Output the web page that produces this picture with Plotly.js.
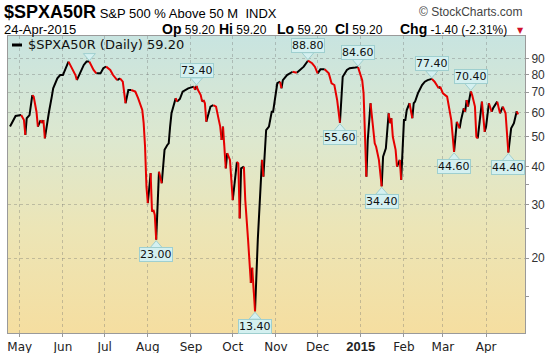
<!DOCTYPE html>
<html><head><meta charset="utf-8">
<script src="https://cdn.plot.ly/plotly-3.0.1.min.js"></script>
<style>
html,body{margin:0;padding:0;background:#fff;}
#wrap{position:relative;width:550px;height:353px;overflow:hidden;}
#bg{position:absolute;left:8px;top:36px;width:517px;height:297px;background:linear-gradient(to bottom,#c8e4e0 0%,#dde8cf 35%,#ece5b6 65%,#f5dea0 100%);}
#chart{position:absolute;left:0;top:0;width:550px;height:353px;}
</style></head><body>
<div id="wrap"><div id="bg"></div><div id="chart"></div></div>
<script>
const dates = [
'2014-04-24','2014-04-28','2014-05-02','2014-05-04','2014-05-05','2014-05-06','2014-05-08','2014-05-10','2014-05-11','2014-05-13',
'2014-05-14','2014-05-16','2014-05-17','2014-05-18','2014-05-19','2014-05-20','2014-05-22','2014-05-24','2014-05-25','2014-05-28',
'2014-05-30','2014-06-01','2014-06-03','2014-06-05','2014-06-07','2014-06-10','2014-06-11','2014-06-13','2014-06-16','2014-06-18',
'2014-06-20','2014-06-23','2014-06-25','2014-06-28','2014-06-30','2014-07-02','2014-07-05','2014-07-07','2014-07-10','2014-07-12',
'2014-07-14','2014-07-16','2014-07-17','2014-07-18','2014-07-20','2014-07-23','2014-07-25','2014-07-28','2014-07-29','2014-07-30',
'2014-07-31','2014-08-01','2014-08-03','2014-08-04','2014-08-05','2014-08-06','2014-08-07','2014-08-09','2014-08-11','2014-08-13',
'2014-08-15','2014-08-16','2014-08-17','2014-08-18','2014-08-21','2014-08-22','2014-08-24','2014-08-26','2014-08-30','2014-09-03',
'2014-09-04','2014-09-05','2014-09-06','2014-09-08','2014-09-09','2014-09-10','2014-09-11','2014-09-12','2014-09-15','2014-09-17',
'2014-09-19','2014-09-21','2014-09-22','2014-09-23','2014-09-24','2014-09-26','2014-09-27','2014-09-29','2014-10-01','2014-10-04',
'2014-10-05','2014-10-06','2014-10-07','2014-10-09','2014-10-10','2014-10-12','2014-10-13','2014-10-14','2014-10-15','2014-10-16',
'2014-10-17','2014-10-19','2014-10-22','2014-10-23','2014-10-24','2014-10-25','2014-10-27','2014-10-29','2014-10-30','2014-11-02',
'2014-11-04','2014-11-05','2014-11-06','2014-11-09','2014-11-11','2014-11-13','2014-11-16','2014-11-18','2014-11-21','2014-11-24',
'2014-11-27','2014-11-29','2014-12-01','2014-12-03','2014-12-06','2014-12-09','2014-12-11','2014-12-13','2014-12-15','2014-12-17',
'2014-12-18','2014-12-19','2014-12-22','2014-12-24','2014-12-28','2014-12-30','2015-01-02','2015-01-03','2015-01-05','2015-01-06',
'2015-01-08','2015-01-10','2015-01-11','2015-01-12','2015-01-14','2015-01-16','2015-01-17','2015-01-19','2015-01-21','2015-01-22',
'2015-01-23','2015-01-24','2015-01-26','2015-01-27','2015-01-29','2015-01-30','2015-01-31','2015-02-01','2015-02-02','2015-02-03',
'2015-02-05','2015-02-07','2015-02-08','2015-02-09','2015-02-10','2015-02-11','2015-02-14','2015-02-16','2015-02-18','2015-02-21',
'2015-02-23','2015-02-26','2015-02-27','2015-03-01','2015-03-04','2015-03-05','2015-03-06','2015-03-07','2015-03-09','2015-03-10',
'2015-03-11','2015-03-13','2015-03-14','2015-03-16','2015-03-17','2015-03-18','2015-03-19','2015-03-21','2015-03-22','2015-03-24',
'2015-03-25','2015-03-26','2015-03-29','2015-03-30','2015-03-31','2015-04-01','2015-04-03','2015-04-05','2015-04-06','2015-04-09',
'2015-04-10','2015-04-11','2015-04-13','2015-04-15','2015-04-17','2015-04-19','2015-04-21','2015-04-22','2015-04-23','2015-04-24'
];
const values = [
54.0,58.5,58.9,56.7,50.7,57.5,58.9,68.5,67.7,60.4,
54.0,56.7,55.4,56.7,49.4,53.3,60.4,67.7,72.1,77.7,
79.7,79.7,83.9,88.2,84.9,79.7,76.7,80.7,86.0,88.2,
88.2,82.8,80.7,80.7,83.9,84.9,82.8,79.7,76.7,77.7,
75.8,64.4,67.7,71.2,71.2,70.3,66.9,61.2,55.4,46.4,
34.3,30.3,38.0,28.4,28.8,27.7,23.0,38.4,35.2,45.3,
47.0,47.6,54.0,59.7,66.9,65.2,66.5,70.3,72.1,73.0,
71.2,73.4,71.2,68.5,65.2,66.0,64.4,56.0,62.8,63.5,
62.8,56.7,54.0,48.8,54.0,39.4,44.2,42.0,31.0,41.4,
40.9,27.0,39.4,39.9,31.0,23.0,18.8,16.6,18.6,16.1,
13.4,23.0,42.0,37.0,43.0,52.6,54.0,60.4,60.4,74.9,
75.8,72.1,76.7,79.7,80.7,81.7,81.1,82.8,84.9,88.8,
87.1,84.9,80.7,83.2,83.2,80.7,74.9,73.9,66.0,55.6,
66.0,78.7,82.8,83.9,84.3,84.6,76.7,69.4,37.0,48.8,
64.4,54.0,47.6,46.4,42.0,34.4,43.0,45.8,59.7,55.4,
57.5,50.0,45.3,39.9,42.0,36.1,45.3,56.7,56.7,61.2,
64.4,57.5,64.4,65.2,67.7,69.4,73.9,75.8,76.7,77.4,
75.8,72.1,73.0,69.4,67.7,63.5,59.7,56.7,44.6,50.0,
56.0,53.3,56.7,62.0,60.4,66.0,62.8,70.4,68.5,62.8,
50.0,49.4,65.2,56.7,51.9,54.0,64.4,60.4,62.0,65.2,
62.8,59.7,62.8,59.7,44.4,53.3,55.4,58.2,60.6,59.2
];
const monthTicks = ['2014-05-01','2014-06-01','2014-07-01','2014-08-01','2014-09-01','2014-10-01','2014-11-01','2014-12-01','2015-01-01','2015-02-01','2015-03-01','2015-04-01'];
const monthLabels = ['May','Jun','Jul','Aug','Sep','Oct','Nov','Dec','<b style="font-family:Liberation Sans;font-size:13px">2015</b>','Feb','Mar','Apr'];
const yTicks = [20,30,40,50,60,70,80,90];
const yMinorTicks = [15,25,35];
const labelDates = ['2014-08-07','2014-09-05','2014-10-17','2014-11-24','2014-12-17','2014-12-30','2015-01-16','2015-02-21','2015-03-09','2015-03-21','2015-04-17'];
const labelSides = ['below','above','below','above','below','above','below','above','below','above','below'];
const hiddenLabelDates = ['2014-06-20'];
const headerStats = [['Op','59.20'],['Hi','59.20'],['Lo','59.20'],['Cl','59.20'],['Chg','-1.40 (-2.31%)']];

// layout helpers (pixel -> paper)
const L=8, R=525, T=36, B=333;
const px = x => (x-L)/(R-L);
const py = y => (B-y)/(B-T);
const xRange = ['2014-04-22T13:00:00Z','2015-04-28T23:00:00Z'];
const yRangeLog = [1.0556, 2.0294];
const msPerPx = (Date.parse(xRange[1]) - Date.parse(xRange[0]))/(R-L);
const decPerPx = (yRangeLog[1]-yRangeLog[0])/(B-T);

function runs(up){
  const xs=[], ys=[];
  for(let i=0;i<values.length-1;i++){
    const isUp = values[i+1]>=values[i];
    if(isUp===up){
      if(!(xs.length && xs[xs.length-1]===dates[i])){
        if(xs.length){xs.push(null);ys.push(null);}
        xs.push(dates[i]); ys.push(values[i]);
      }
      xs.push(dates[i+1]); ys.push(values[i+1]);
    }
  }
  return {xs,ys};
}
const upR = runs(true), dnR = runs(false);

// pointer triangles between label boxes and the marked points (pixel sizes via axis scale)
const triX=[], triY=[];
function pointer(d, v, above){
  const t = Date.parse(d+'T00:00:00Z'), lv = Math.log10(v), s = above?1:-1;
  const pts = [[-6,8],[6,8],[0,1],[-6,8]];
  pts.forEach(p=>{ triX.push(new Date(t + p[0]*msPerPx).toISOString().replace('T',' ').replace('Z','')); triY.push(Math.pow(10, lv + s*p[1]*decPerPx)); });
  triX.push(null); triY.push(null);
}
const boxFill='#d4f0f0', boxLine='#9fcfcf';
const annotations = [];
labelDates.forEach((d,k)=>{
  const v = values[dates.indexOf(d)];
  const above = labelSides[k]==='above';
  pointer(d, v, above);
  annotations.push({
    x:d, y:Math.log10(v), xref:'x', yref:'y', text:v.toFixed(2),
    showarrow:false, yshift: above?15:-15, xanchor:'center', yanchor:'middle',
    bgcolor:boxFill, bordercolor:boxLine, borderwidth:1, borderpad:0,
    font:{family:'DejaVu Sans',size:11,color:'#111'}
  });
});
hiddenLabelDates.forEach(d=>pointer(d, values[dates.indexOf(d)], true));

const traces = [
  {x:upR.xs,y:upR.ys,type:'scatter',mode:'lines',connectgaps:false,line:{color:'#000000',width:2},hoverinfo:'skip',showlegend:false},
  {x:dnR.xs,y:dnR.ys,type:'scatter',mode:'lines',connectgaps:false,line:{color:'#e60000',width:2},hoverinfo:'skip',showlegend:false},
  {x:triX,y:triY,type:'scatter',mode:'lines',fill:'toself',fillcolor:boxFill,connectgaps:false,line:{color:boxLine,width:1},hoverinfo:'skip',showlegend:false}
];

annotations.push({xref:'paper',yref:'paper',x:px(2),y:py(11.5),xanchor:'left',yanchor:'middle',showarrow:false,
  text:'<b>$SPXA50R</b><span style="font-size:13px">&nbsp;S&amp;P 500 % Above 50 M&nbsp; INDX</span>',
  font:{family:'Liberation Sans',size:18,color:'#000'}});
annotations.push({xref:'paper',yref:'paper',x:px(525),y:py(12),xanchor:'right',yanchor:'middle',showarrow:false,
  text:'© StockCharts.com',font:{family:'Liberation Sans',size:12,color:'#444'}});
annotations.push({xref:'paper',yref:'paper',x:px(2),y:py(29),xanchor:'left',yanchor:'middle',showarrow:false,
  text:'24-Apr-2015',font:{family:'Liberation Sans',size:13,color:'#000'}});
const statX = [160,217,275,333,398];
headerStats.forEach((s,k)=>{
  annotations.push({xref:'paper',yref:'paper',x:px(statX[k]),y:py(29),xanchor:'left',yanchor:'middle',showarrow:false,
    text:'<b>'+s[0]+'</b><span style="font-size:12px">&nbsp;'+s[1]+'</span>',font:{family:'Liberation Sans',size:14,color:'#000'}});
});
annotations.push({xref:'paper',yref:'paper',x:px(520),y:py(30),xanchor:'center',yanchor:'middle',showarrow:false,
  text:'▼',font:{family:'DejaVu Sans',size:8,color:'#d0102a'}});
annotations.push({xref:'paper',yref:'paper',x:px(26),y:py(45),xanchor:'left',yanchor:'middle',showarrow:false,
  text:'$SPXA50R (Daily) '+values[values.length-1].toFixed(2),
  font:{family:'DejaVu Sans',size:13,color:'#111'}});

const layout = {
  width:550,height:353,
  margin:{l:L,r:550-R,t:T,b:353-B,pad:0},
  paper_bgcolor:'rgba(0,0,0,0)',plot_bgcolor:'rgba(0,0,0,0)',
  showlegend:false,
  xaxis:{type:'date',range:xRange.map(s=>s.replace('T',' ').replace('Z','')),tickmode:'array',tickvals:monthTicks,ticktext:monthLabels,
    showgrid:true,gridcolor:'rgba(110,110,110,0.35)',griddash:'dot',gridwidth:1,
    ticks:'outside',ticklen:3,tickcolor:'#999',showline:true,mirror:true,linecolor:'#9a9a9a',linewidth:1,
    tickfont:{family:'DejaVu Sans',size:12,color:'#222'},zeroline:false,fixedrange:true},
  yaxis:{type:'log',side:'right',range:yRangeLog,tickmode:'array',tickvals:yTicks,ticktext:yTicks.map(String),
    showgrid:true,gridcolor:'rgba(110,110,110,0.35)',griddash:'dot',gridwidth:1,
    ticks:'outside',ticklen:3,tickcolor:'#999',showline:true,mirror:true,linecolor:'#9a9a9a',linewidth:1,
    minor:{tickmode:'array',tickvals:yMinorTicks,ticks:'outside',ticklen:3,tickcolor:'#999',showgrid:false},
    tickfont:{family:'Liberation Sans',size:12,color:'#333'},zeroline:false,fixedrange:true},
  shapes:[{type:'line',xref:'paper',yref:'paper',x0:px(12),x1:px(22),y0:py(45),y1:py(45),line:{color:'#000',width:3}}],
  annotations:annotations
};
Plotly.newPlot('chart',traces,layout,{staticPlot:true,displayModeBar:false});
</script>
</body></html>
